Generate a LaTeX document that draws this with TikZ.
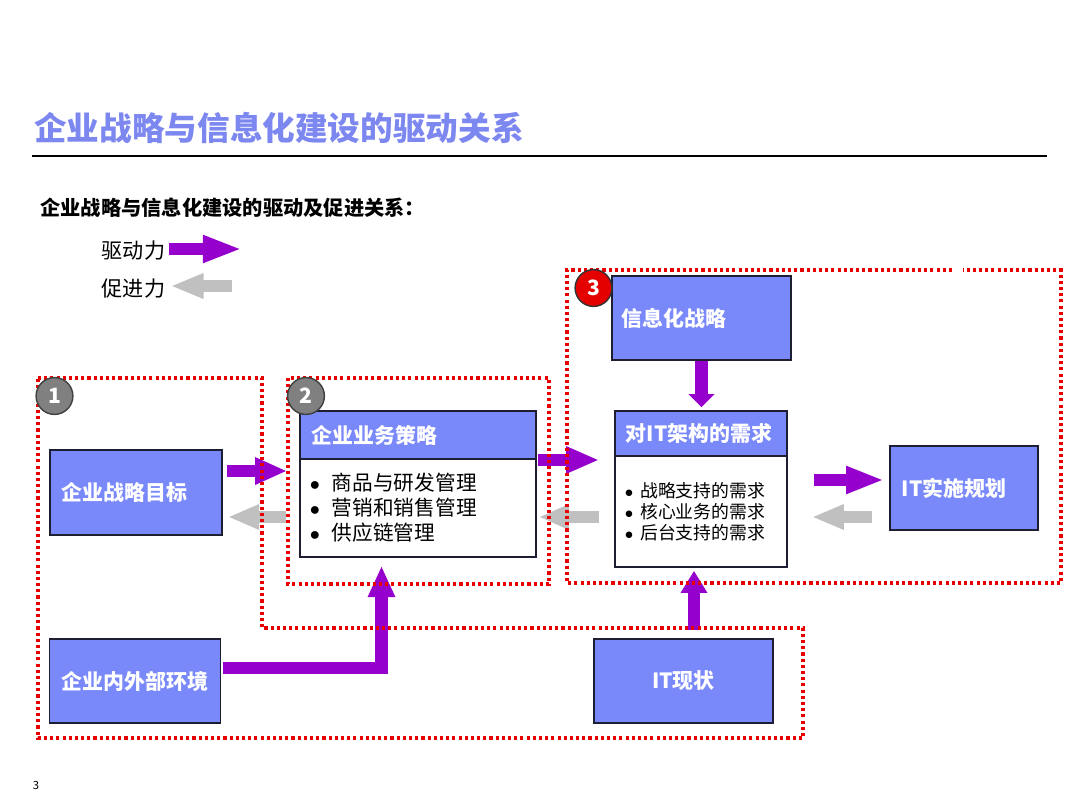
\documentclass[tikz,border=0pt]{standalone}
\usepackage{fontspec}
\setmainfont{Noto Sans CJK SC}
\usetikzlibrary{arrows.meta,calc,positioning}
\definecolor{boxblue}{RGB}{122,137,250}
\definecolor{titleblue}{RGB}{125,135,240}
\definecolor{drivepurple}{RGB}{150,0,204}
\definecolor{promotegray}{RGB}{192,192,192}
\definecolor{framered}{RGB}{232,0,0}
\definecolor{edgenavy}{RGB}{30,30,50}
\newcommand{\listdot}[1]{\makebox[#1][l]{$\bullet$}}
\tikzset{
  bluebox/.style={draw=edgenavy, line width=1.1pt, fill=boxblue, text=white,
    font=\fontsize{14.9}{17}\selectfont\bfseries, inner xsep=0.3cm, inner ysep=0pt},
  listbox/.style={draw=edgenavy, line width=1.1pt, fill=white, align=left,
    inner xsep=0.25cm, inner ysep=0pt},
  zone/.style={draw=framered, line width=2.2pt, dash pattern=on 2.2pt off 2.2pt},
  badge/.style={circle, minimum size=0.92cm, inner sep=0pt, line width=1pt,
    text=white, font=\fontsize{15}{15}\selectfont\bfseries},
  drive/.style={draw=drivepurple, line width=0.31cm,
    -{Triangle[length=#1, width=0.63cm]}},
  drive/.default=0.8cm,
  promote/.style={draw=promotegray, line width=0.3cm,
    -{Triangle[length=#1, width=0.58cm]}},
  promote/.default=0.78cm,
  legendtxt/.style={inner sep=0pt, font=\fontsize{15}{15}\selectfont}
}
\begin{document}
\begin{tikzpicture}[x=0.025cm,y=-0.025cm]
  \useasboundingbox (0,0) rectangle (1080,810);
  % title and rule
  \node[anchor=west, inner sep=0pt, text=titleblue,
        font=\fontsize{23.2}{24}\selectfont\bfseries] (title) at (34,128)
        {企业战略与信息化建设的驱动关系};
  \draw[line width=0.9pt] (32,156) -- (1047,156);
  \node[anchor=west, inner sep=0pt, font=\fontsize{14.4}{15}\selectfont\bfseries]
        (subtitle) at (40,208) {企业战略与信息化建设的驱动及促进关系：};
  % legend
  \node[legendtxt] (drivelbl) at (133.5,251) {驱动力};
  \node[legendtxt] (promotelbl) at (133.5,289) {促进力};
  \coordinate (drivetip) at (242,249);
  \coordinate (promotetail) at (232,286);
  \draw[drive=0.98cm] (drivelbl.east |- drivetip) ++(4,0) -- (drivetip);
  \draw[promote=0.83cm] (promotetail) -- ($(promotelbl.east |- promotetail)+(5,0)$);
  % boxes
  \node[bluebox, minimum width=4.3cm, minimum height=2.125cm, text width=3.7cm,
        align=left] (goal) at (136,492.5) {企业战略目标};
  \node[bluebox, minimum width=4.25cm, minimum height=2.1cm] (env) at (135,681)
        {企业内外部环境};
  \node[bluebox, minimum width=5.9cm, minimum height=1.2cm, text width=5.3cm,
        align=left] (bizhead) at (418,435) {企业业务策略};
  \node[listbox, minimum width=5.9cm, minimum height=2.45cm, text width=5.4cm,
        font=\fontsize{14.7}{17.7}\selectfont] (bizbody) at (418,508)
        {\listdot{0.55cm}商品与研发管理\\
         \listdot{0.55cm}营销和销售管理\\
         \listdot{0.55cm}供应链管理};
  \node[bluebox, minimum width=4.475cm, minimum height=2.1cm, text width=3.975cm,
        inner xsep=0.25cm, align=left] (isstrat) at (701.5,318) {信息化战略};
  \node[bluebox, minimum width=4.3cm, minimum height=1.125cm, text width=3.75cm,
        inner xsep=0.275cm, align=left] (archhead) at (701,433.5) {对IT架构的需求};
  \node[listbox, minimum width=4.3cm, minimum height=2.775cm, text width=3.8cm,
        font=\fontsize{12.7}{14.9}\selectfont] (archbody) at (701,511.5)
        {\listdot{0.38cm}战略支持的需求\\
         \listdot{0.38cm}核心业务的需求\\
         \listdot{0.38cm}后台支持的需求};
  \node[bluebox, minimum width=3.7cm, minimum height=2.1cm, text width=3.1cm,
        align=left] (itplan) at (964,488) {IT实施规划};
  \node[bluebox, minimum width=4.475cm, minimum height=2.1cm] (itnow) at (683.5,681)
        {IT现状};
  % driving and promoting arrows
  \draw[drive=0.8cm] ($(goal.east)+(4,-21.5)$) -- ($(goal.east -| bizbody.west)+(-12,-21.5)$);
  \draw[promote=0.78cm] ($(bizbody.west)+(-13,9)$) -- ($(bizbody.west -| goal.east)+(5,9)$);
  \draw[drive=0.83cm] ($(bizbody.east)+(1,-48)$) -- ($(bizbody.east -| archbody.west)+(-15,-48)$);
  \draw[promote=0.75cm] ($(archbody.west)+(-15,5.5)$) -- ($(archbody.west -| bizbody.east)+(2,5.5)$);
  \draw[drive=0.95cm] ($(archbody.east)+(26,-31.5)$) -- ($(archbody.east -| itplan.west)+(-5,-31.5)$);
  \draw[promote=0.8cm] ($(itplan.west)+(-17,29)$) -- ($(itplan.west -| archbody.east)+(24,29)$);
  \draw[drive=0.33cm, shorten >=0.075cm] (isstrat.south) -- (isstrat.south |- archhead.north);
  \coordinate (upfoot) at ($(itnow.north)+(10.5,-8)$);
  \draw[drive=0.55cm, shorten >=0.075cm] (upfoot) -- (upfoot |- archbody.south);
  \draw[drive=0.78cm] ($(env.east)+(2,-13)$) -| ($(bizbody.south)+(-36.5,8)$);
  % dotted zones
  \draw[zone] (38,378) -- (262,378) -- (262,628) -- (803,628) -- (803,738) -- (38,738) -- cycle;
  \draw[zone] (288,378) rectangle (549,584);
  \draw[zone] (952,270) -- (567,270) -- (567,583) -- (1061,583) -- (1061,270) -- (963,270);
  % numbered badges
  \node[badge, fill=black!50, draw=black!75] (one) at (54.5,396) {1};
  \node[badge, fill=black!50, draw=black!75] (two) at (306,396) {2};
  \node[badge, fill=red!90!black, draw=black!80] (three) at (593.5,288) {3};
  % page number
  \node[inner sep=0pt, font=\fontsize{8}{8}\selectfont] (pageno) at (36,785) {3};
\end{tikzpicture}
\end{document}
